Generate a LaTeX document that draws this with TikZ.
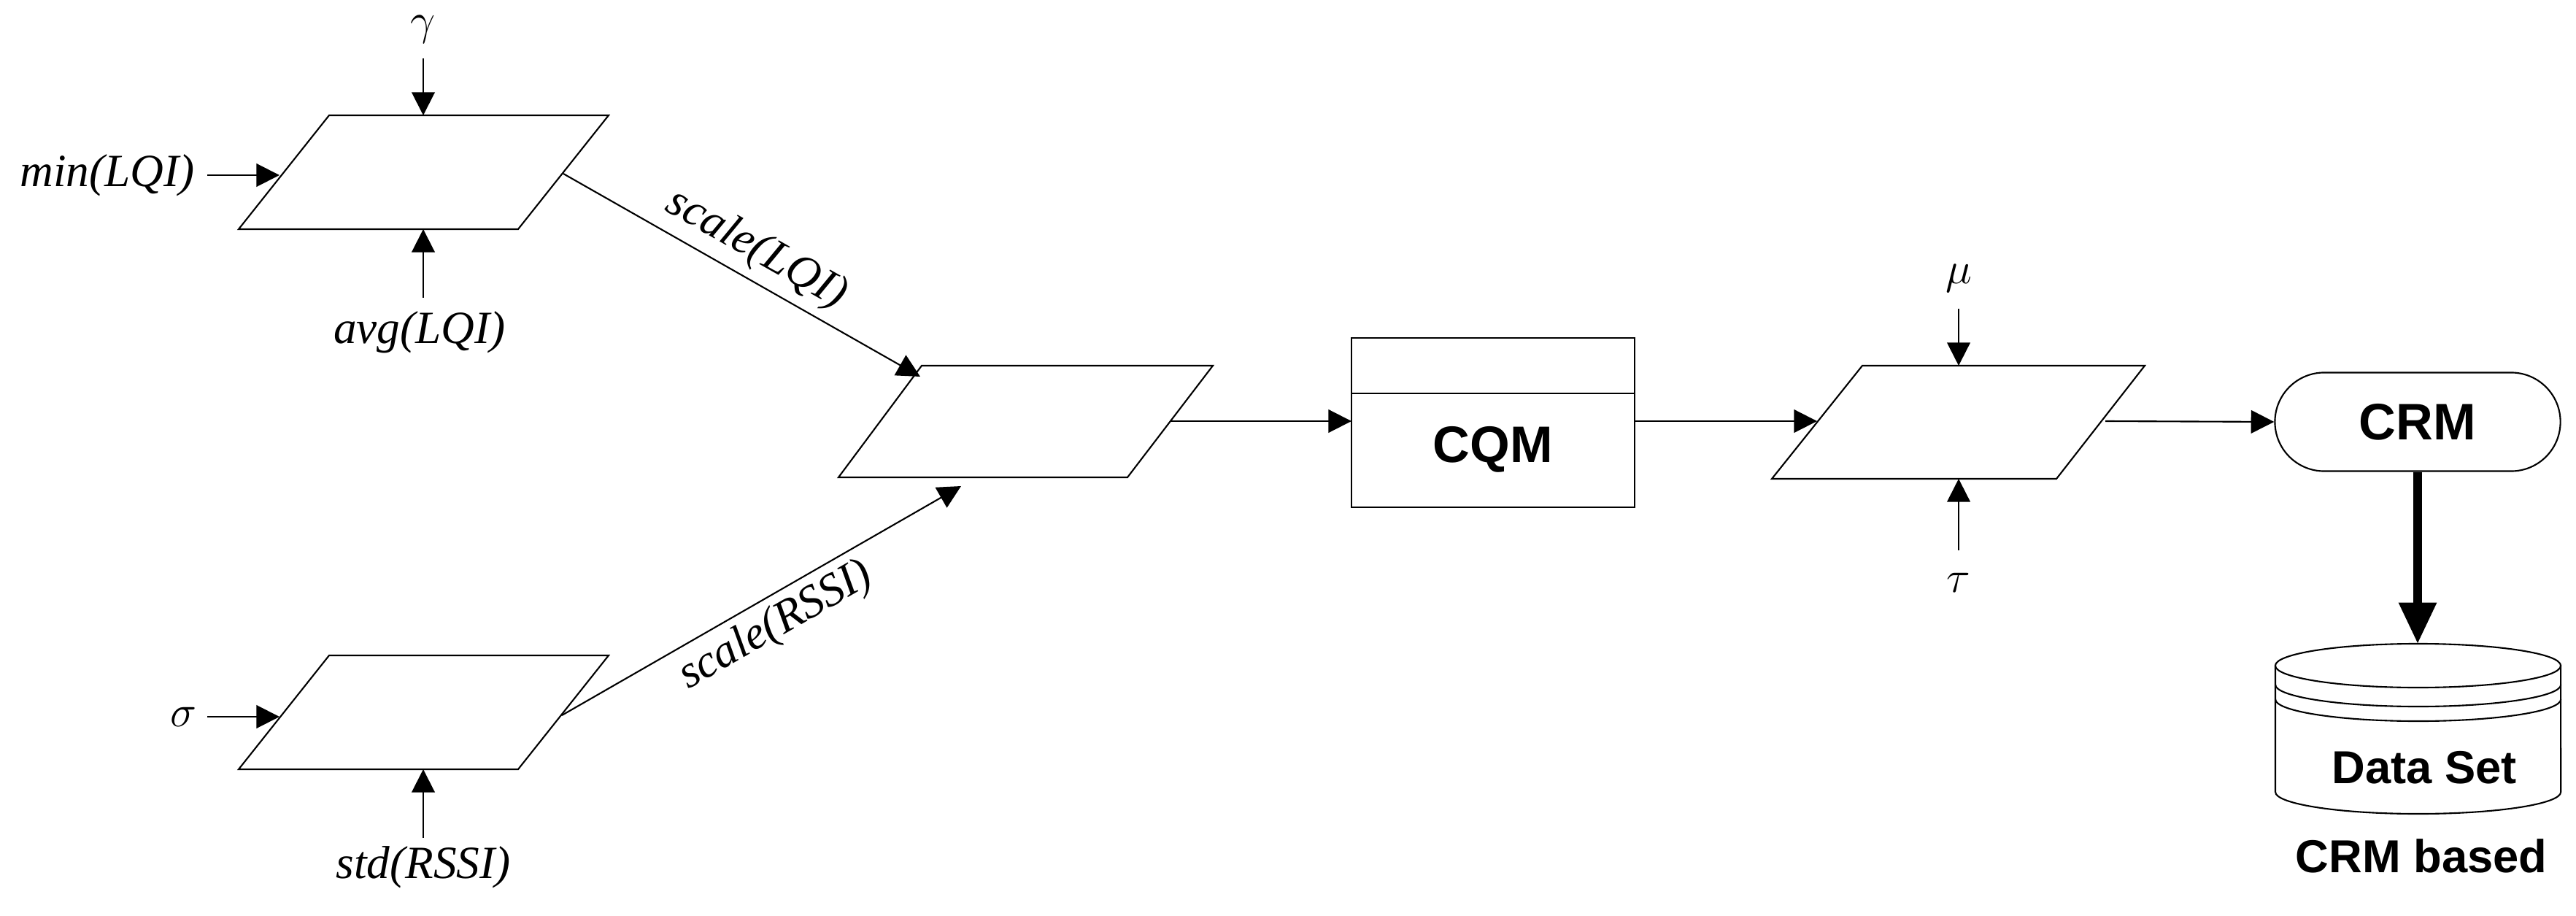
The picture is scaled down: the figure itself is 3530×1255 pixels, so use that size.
\documentclass[tikz,border=0pt]{standalone}
\usepackage{fontspec}
\setmainfont{Liberation Serif}
\newfontfamily\sansb{Liberation Sans}
\usetikzlibrary{arrows.meta,shapes.misc}
\begin{document}
\begin{tikzpicture}[x=0.01cm,y=-0.01cm,
  ln/.style={line width=0.6pt},
  arr/.style={ln,-{Triangle[length=9pt,width=9pt]}},
  lab/.style={font=\fontsize{18}{22}\selectfont\itshape,inner sep=1pt},
  bl/.style={font=\sansb\bfseries\fontsize{20}{24}\selectfont},
  para/.style={ln,fill=white}]
\useasboundingbox (0,0) rectangle (3530,1255);
% parallelograms
\draw[para] (451,158) -- (834,158) -- (710,314) -- (327,314) -- cycle;
\draw[para] (1263,501) -- (1662,501) -- (1545,654) -- (1149,654) -- cycle;
\draw[para] (451,898) -- (834,898) -- (710,1054) -- (327,1054) -- cycle;
\draw[para] (2552,501) -- (2939,501) -- (2818,656) -- (2428,656) -- cycle;
\coordinate (p1t) at (580,158); \coordinate (p1b) at (580,314);
\coordinate (p1l) at (383,240); \coordinate (p1r) at (772,238);
\coordinate (p2a) at (1261,516); \coordinate (p2b) at (1317,666);
\coordinate (p2r) at (1604,577);
\coordinate (p3l) at (383,982); \coordinate (p3b) at (580,1054); \coordinate (p3r) at (770,980);
\coordinate (p4t) at (2684,501); \coordinate (p4b) at (2684,656);
\coordinate (p4l) at (2490,577); \coordinate (p4r) at (2885,577);
% labels
\node[lab] (g) at (580,40) {$\gamma$};
\node[lab,anchor=east] (mn) at (271,240) {min(LQI)};
\node[lab] (av) at (575,455) {avg(LQI)};
\node[lab] (sg) at (251,982) {$\sigma$};
\node[lab] (sd) at (580,1188) {std(RSSI)};
\node[lab] (mu) at (2684,381) {$\mu$};
\node[lab] (ta) at (2684,798) {$\tau$};
\coordinate (ga) at (580,80); \coordinate (mna) at (284,240);
\coordinate (ava) at (580,408); \coordinate (sga) at (284,982);
\coordinate (sda) at (580,1148); \coordinate (mua) at (2684,423); \coordinate (taa) at (2684,754);
\draw[arr] (ga) -- (p1t);
\draw[arr] (mna) -- (p1l);
\draw[arr] (ava) -- (p1b);
\draw[arr] (sga) -- (p3l);
\draw[arr] (sda) -- (p3b);
\draw[arr] (mua) -- (p4t);
\draw[arr] (taa) -- (p4b);
\draw[arr] (p1r) -- node[lab,sloped,above=2pt] {scale(LQI)} (p2a);
\draw[arr] (p3r) -- node[lab,sloped,below=2pt] {scale(RSSI)} (p2b);
% CQM
\draw[ln] (1852,463) rectangle (2240,695);
\draw[ln] (1852,539) -- (2240,539);
\node[bl] (cqm) at (2046,616) {CQM};
\coordinate (cqml) at (1852,577); \coordinate (cqmr) at (2240,577);
\draw[arr] (p2r) -- (cqml);
\draw[arr] (cqmr) -- (p4l);
% CRM
\node[ln,draw,rounded rectangle,minimum width=3.91cm,minimum height=1.35cm,inner sep=0pt,bl] (crm) at (3313,578) {CRM};
\draw[arr] (p4r) -- (crm.west);
% cylinder
\draw[ln] (3118,912) -- (3118,1085) arc[start angle=180,end angle=360,x radius=1.955cm,y radius=0.3cm] -- (3509,912);
\draw[ln] (3313.5,912) ellipse[x radius=1.955cm,y radius=0.3cm];
\draw[ln] (3118,938) arc[start angle=180,end angle=360,x radius=1.955cm,y radius=0.3cm];
\draw[ln] (3118,958) arc[start angle=180,end angle=360,x radius=1.955cm,y radius=0.3cm];
\coordinate (cyt) at (3313,882);
\draw[line width=3.2pt,-{Triangle[length=16pt,width=14pt]}] (crm.south) -- (cyt);
\node[bl,font=\sansb\bfseries\fontsize{18}{22}\selectfont] (ds) at (3322,1052) {Data Set};
\node[bl,font=\sansb\bfseries\fontsize{18}{22}\selectfont] (cb) at (3318,1173) {CRM based};
\end{tikzpicture}
\end{document}
